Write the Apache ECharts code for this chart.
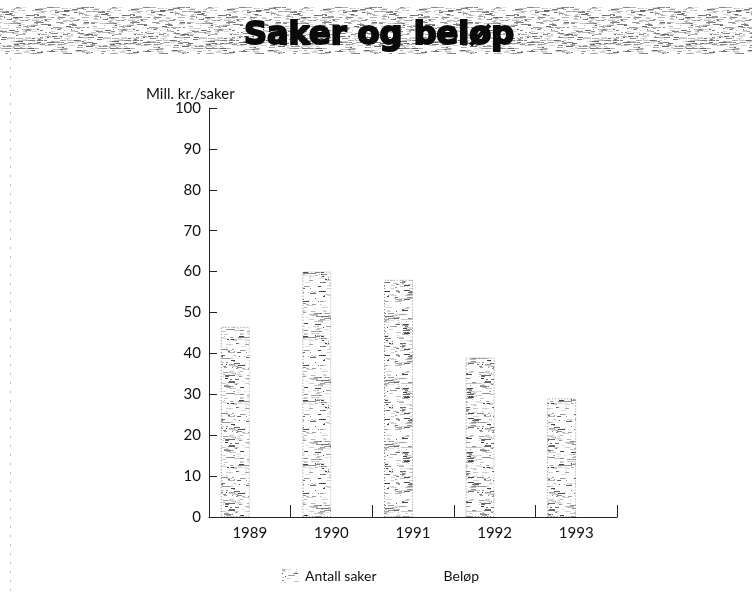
<!DOCTYPE html>
<html>
<head>
<meta charset="utf-8">
<script src="https://cdn.jsdelivr.net/npm/echarts@6/dist/echarts.min.js"></script>
<style>
  html, body { margin: 0; padding: 0; background: #fff; }
  #chart { width: 752px; height: 593px; }
</style>
</head>
<body>
<div id="chart"></div>
<script>
// Chart data
const years = ['1989', '1990', '1991', '1992', '1993'];
const antallSaker = [46.5, 60, 58, 39, 29];
const belop = [61, 62, 54, 20, 15];
const yTicks = [0, 10, 20, 30, 40, 50, 60, 70, 80, 90, 100];

// Small deterministic generator for the print-like hatching texture
function lcg(seed) {
  let s = seed >>> 0;
  return function () {
    s = (s * 1664525 + 1013904223) >>> 0;
    return s / 4294967296;
  };
}

function makeTexture(w, h, count, seed, shades, bg) {
  const c = document.createElement('canvas');
  c.width = w; c.height = h;
  const ctx = c.getContext('2d');
  if (bg) { ctx.fillStyle = bg; ctx.fillRect(0, 0, w, h); }
  const rnd = lcg(seed);
  for (let i = 0; i < count; i++) {
    const x = Math.floor(rnd() * w);
    const y = Math.floor(rnd() * h);
    const len = 1 + Math.floor(rnd() * 7);
    ctx.fillStyle = shades[Math.floor(rnd() * shades.length)];
    ctx.fillRect(x, y, len, 1);
    if (x + len > w) ctx.fillRect(x - w, y, len, 1);
  }
  return c;
}

const barTexture = makeTexture(64, 64, 300, 7,
  ['#d4d4d4', '#c4c4c4', '#b4b4b4', '#a0a0a0', '#8c8c8c', '#6a6a6a', '#cccccc', '#e2e2e2', '#444444'], '#ffffff');
const bannerTexture = makeTexture(96, 48, 520, 19,
  ['#d6d6d6', '#c4c4c4', '#b0b0b0', '#9a9a9a', '#858585', '#e4e4e4', '#6a6a6a'], '#ffffff');

const chart = echarts.init(document.getElementById('chart'), null, { renderer: 'canvas' });

const labelFont = 'Lato, "Open Sans", sans-serif';

chart.setOption({
  animation: false,
  backgroundColor: '#ffffff',
  grid: { left: 209, right: 135, top: 108, bottom: 76, containLabel: false },
  graphic: [
    {
      type: 'rect', z: 0, silent: true,
      shape: { x: 0, y: 7, width: 752, height: 47 },
      style: { fill: { image: bannerTexture, repeat: 'repeat' } }
    },
    {
      type: 'text', z: 10, silent: true,
      x: 379, y: 36,
      style: {
        text: 'Saker og beløp',
        font: 'bold 32px "DejaVu Sans", sans-serif',
        fill: '#0a0a0a',
        stroke: '#0a0a0a', lineWidth: 2,
        align: 'center', verticalAlign: 'middle'
      }
    },
    {
      type: 'line', z: 0, silent: true,
      shape: { x1: 10.5, y1: 58, x2: 10.5, y2: 593 },
      style: { stroke: '#bdbdbd', lineWidth: 1, lineDash: [2, 7] }
    },
    {
      type: 'text', z: 10, silent: true,
      left: 146, top: 87,
      style: { text: 'Mill. kr./saker', font: '15px ' + labelFont, fill: '#111' }
    }
  ],
  legend: {
    left: 277, top: 564,
    icon: 'rect',
    itemWidth: 18, itemHeight: 14, itemGap: 44,
    itemStyle: { borderWidth: 0 },
    textStyle: { fontFamily: labelFont, fontSize: 14, color: '#111' },
    data: ['Antall saker', 'Beløp']
  },
  xAxis: {
    type: 'category',
    data: years,
    boundaryGap: true,
    axisLine: { show: true, lineStyle: { color: '#222', width: 1 } },
    axisTick: { show: true, inside: true, length: 12, lineStyle: { color: '#222' } },
    axisLabel: { fontFamily: labelFont, fontSize: 15, color: '#111', margin: 9 },
    splitLine: { show: false }
  },
  yAxis: {
    type: 'value',
    min: yTicks[0], max: yTicks[yTicks.length - 1], interval: 10,
    axisLine: { show: true, lineStyle: { color: '#222', width: 1 } },
    axisTick: { show: true, inside: true, length: 8, lineStyle: { color: '#222' } },
    axisLabel: { fontFamily: labelFont, fontSize: 15, color: '#111', margin: 8 },
    splitLine: { show: false }
  },
  series: [
    {
      name: 'Antall saker',
      type: 'bar',
      data: antallSaker,
      barWidth: 29,
      barGap: '0%',
      itemStyle: {
        color: { image: barTexture, repeat: 'repeat' },
        borderColor: '#8a8a8a', borderWidth: 1, borderType: [1, 2]
      }
    },
    {
      name: 'Beløp',
      type: 'bar',
      data: belop,
      barWidth: 29,
      itemStyle: { color: '#ffffff' }
    }
  ]
});
</script>
</body>
</html>
